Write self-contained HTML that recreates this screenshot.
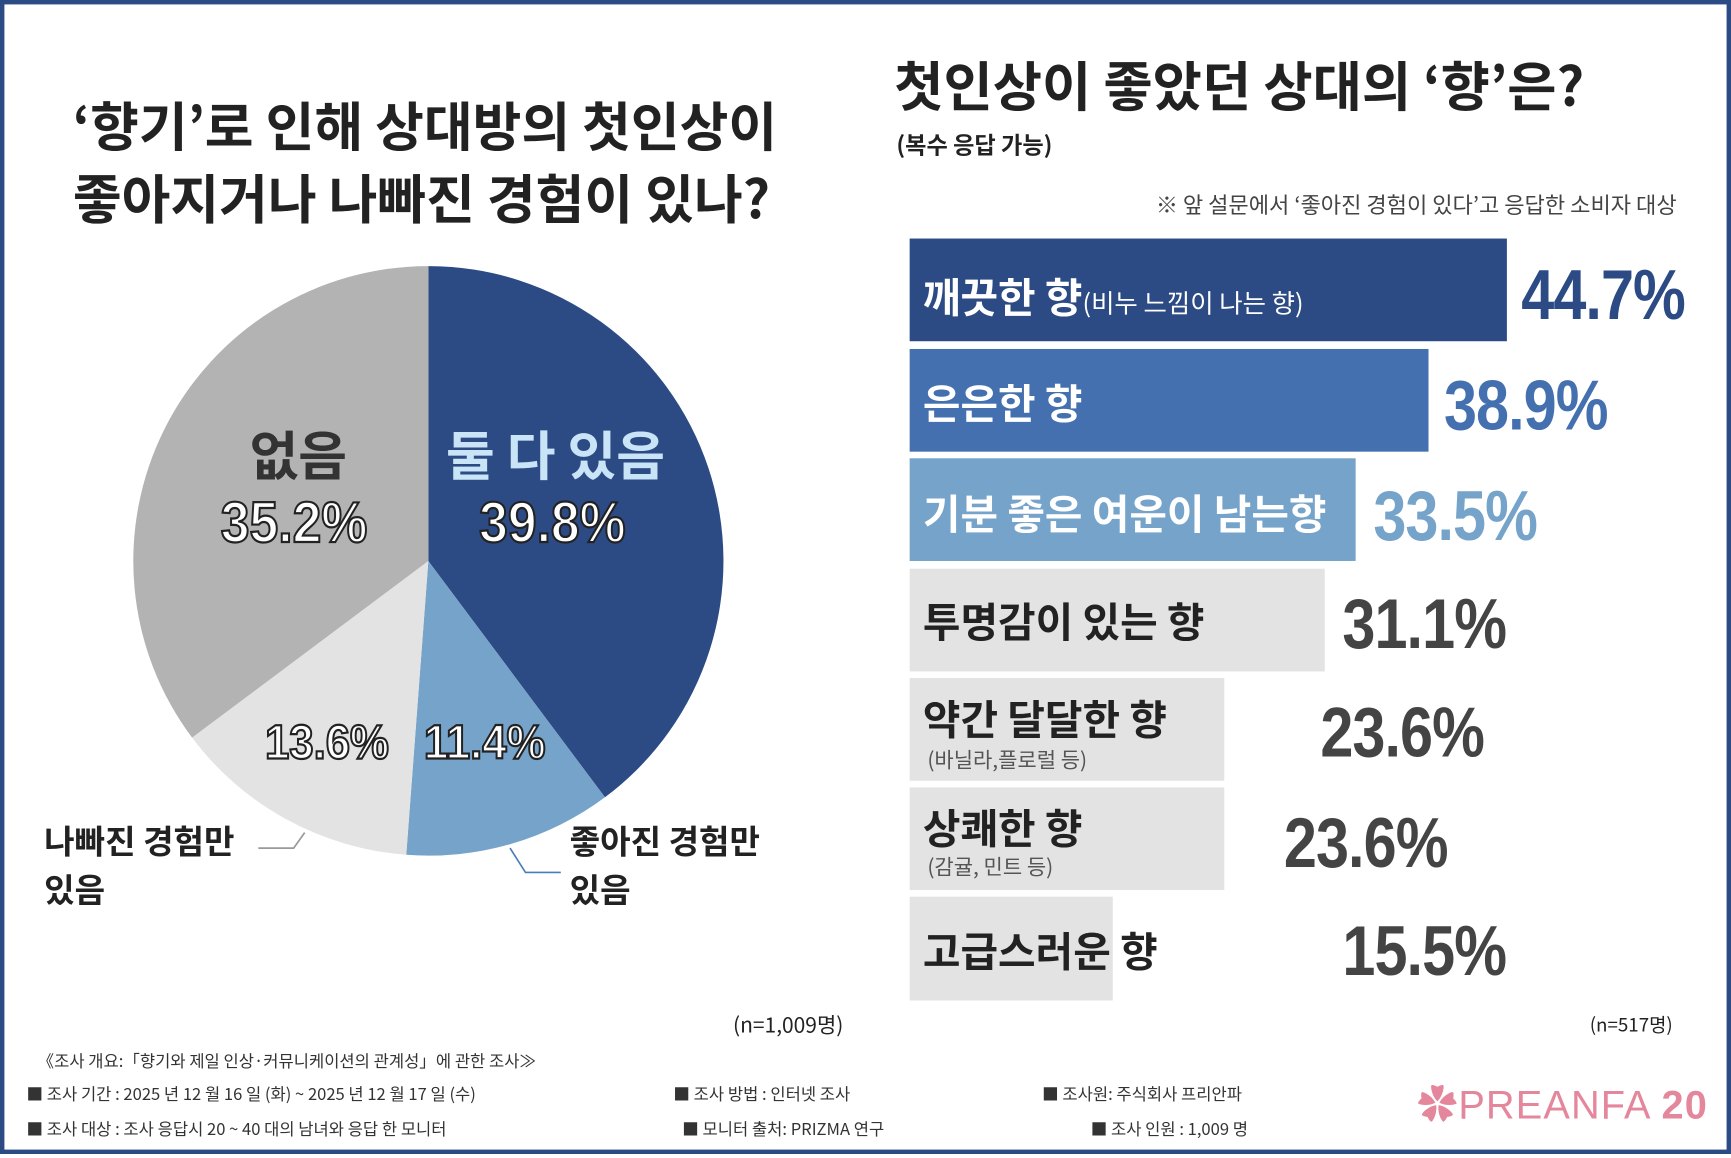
<!DOCTYPE html>
<html><head><meta charset="utf-8"><style>
html,body{margin:0;padding:0;background:#fff;}
body{width:1731px;height:1154px;overflow:hidden;}
#w{width:1568px;height:1045px;transform:scale(1.10395,1.10431);transform-origin:0 0;position:relative;font-family:"Liberation Sans","Noto Sans CJK KR",sans-serif;color:#222;box-sizing:border-box;border:4px solid #2c4a84;}
.a{position:absolute;white-space:nowrap;}
.k{font-family:"Noto Sans CJK KR","NanumGothic",sans-serif;}
.b{font-weight:bold;}
.bar{position:absolute;left:820px;}
.v{position:absolute;font-family:"Liberation Sans Narrow","Liberation Sans",sans-serif;font-weight:bold;font-size:64px;letter-spacing:-1px;transform:scaleX(0.84);transform-origin:0 0;}
.p{font-family:"Liberation Sans",sans-serif;transform:scaleX(0.9);transform-origin:0 0;}
.s{font-size:15px;color:#333;}
</style></head><body><div id="w">
<div class="a k b" style="left:62px;top:74px;font-size:48px;line-height:66px;color:#222">‘향기’로 인해 상대방의 첫인상이<br>좋아지거나 나빠진 경험이 있나?</div>
<div class="a k b" style="left:806px;top:36px;font-size:48.5px;color:#222">첫인상이 좋았던 상대의 ‘향’은?</div>
<div class="a k" style="left:808px;top:112px;font-size:21px;font-weight:bold">(복수 응답 가능)</div>
<div class="a k" style="left:1043px;top:166px;font-size:20px;color:#444">※ 앞 설문에서 ‘좋아진 경험이 있다’고 응답한 소비자 대상</div>
<svg class="a" style="left:0;top:0" width="1568" height="1045">
<path d="M384,504 L384,237 A267,267 0 0 1 544,718 Z" fill="#2c4a84"/>
<path d="M384,504 L544,718 A267,267 0 0 1 364,770 Z" fill="#76a3c9"/>
<path d="M384,504 L364,770 A267,267 0 0 1 170,664 Z" fill="#e3e3e3"/>
<path d="M384,504 L170,664 A267,267 0 0 1 384,237 Z" fill="#b3b3b3"/>
<polyline points="230,764 262,764 272,750" fill="none" stroke="#999" stroke-width="1.5"/>
<polyline points="458,764 472,786 504,786" fill="none" stroke="#4a7db5" stroke-width="1.5"/>
</svg>
<div class="a k b" style="left:222px;top:370px;font-size:48px;color:#333">없음</div>
<div class="a b p" style="left:196px;top:440px;font-size:52px;color:#fff;-webkit-text-stroke:2px #222;">35.2%</div>
<div class="a k b" style="left:400px;top:370px;font-size:48px;color:#c9e3f7">둘 다 있음</div>
<div class="a b p" style="left:430px;top:440px;font-size:52px;color:#fff;-webkit-text-stroke:2px #222;">39.8%</div>
<div class="a b p" style="left:236px;top:644px;font-size:44px;color:#fff;-webkit-text-stroke:2px #222;">13.6%</div>
<div class="a b p" style="left:380px;top:644px;font-size:44px;color:#fff;-webkit-text-stroke:2px #222;">11.4%</div>
<div class="a k b" style="left:36px;top:734px;font-size:30px;line-height:44px">나빠진 경험만<br>있음</div>
<div class="a k b" style="left:512px;top:734px;font-size:30px;line-height:44px">좋아진 경험만<br>있음</div>
<div class="a k" style="left:660px;top:910px;font-size:19px">(n=1,009명)</div>
<div class="a k" style="left:1436px;top:910px;font-size:17px">(n=517명)</div>

<div class="bar" style="top:212px;width:541px;height:93px;background:#2c4a84"></div>
<div class="bar" style="top:312px;width:470px;height:93px;background:#4470b0"></div>
<div class="bar" style="top:411px;width:404px;height:93px;background:#76a3c9"></div>
<div class="bar" style="top:511px;width:376px;height:93px;background:#e3e3e3"></div>
<div class="bar" style="top:610px;width:285px;height:93px;background:#e3e3e3"></div>
<div class="bar" style="top:709px;width:285px;height:93px;background:#e3e3e3"></div>
<div class="bar" style="top:808px;width:184px;height:94px;background:#e3e3e3"></div>

<div class="a k b" style="left:832px;top:236px;font-size:37px;color:#fff">깨끗한 향<span style="font-size:23px;font-weight:normal">(비누 느낌이 나는 향)</span></div>
<div class="a k b" style="left:832px;top:332px;font-size:37px;color:#fff">은은한 향</div>
<div class="a k b" style="left:832px;top:432px;font-size:37px;color:#fff">기분 좋은 여운이 남는향</div>
<div class="a k b" style="left:832px;top:530px;font-size:37px;color:#222">투명감이 있는 향</div>
<div class="a k b" style="left:832px;top:618px;font-size:37px;color:#222">약간 달달한 향</div>
<div class="a k" style="left:836px;top:670px;font-size:19px;color:#555">(바닐라,플로럴 등)</div>
<div class="a k b" style="left:832px;top:717px;font-size:37px;color:#222">상쾌한 향</div>
<div class="a k" style="left:836px;top:767px;font-size:19px;color:#555">(감귤, 민트 등)</div>
<div class="a k b" style="left:832px;top:828px;font-size:37px;color:#222">고급스러운 향</div>

<div class="v" style="left:1374px;top:226px;color:#2c4a84">44.7%</div>
<div class="v" style="left:1304px;top:326px;color:#4470b0">38.9%</div>
<div class="v" style="left:1240px;top:426px;color:#76a3c9">33.5%</div>
<div class="v" style="left:1212px;top:524px;color:#444">31.1%</div>
<div class="v" style="left:1192px;top:622px;color:#444">23.6%</div>
<div class="v" style="left:1159px;top:722px;color:#444">23.6%</div>
<div class="v" style="left:1212px;top:820px;color:#444">15.5%</div>

<div class="a k s" style="left:30px;top:946px">《조사 개요:「향기와 제일 인상·커뮤니케이션의 관계성」에 관한 조사≫</div>
<div class="a k s" style="left:20px;top:976px">■ 조사 기간 : 2025 년 12 월 16 일 (화) ~ 2025 년 12 월 17 일 (수)</div>
<div class="a k s" style="left:20px;top:1008px">■ 조사 대상 : 조사 응답시 20 ~ 40 대의 남녀와 응답 한 모니터</div>
<div class="a k s" style="left:606px;top:976px">■ 조사 방법 : 인터넷 조사</div>
<div class="a k s" style="left:614px;top:1008px">■ 모니터 출처: PRIZMA 연구</div>
<div class="a k s" style="left:940px;top:976px">■ 조사원: 주식회사 프리안파</div>
<div class="a k s" style="left:984px;top:1008px">■ 조사 인원 : 1,009 명</div>
<div class="a" style="left:1280px;top:968px;font-size:36px;color:#e4879c;letter-spacing:1px">✿PREANFA <span style="font-weight:bold">20</span></div>
</div></body></html>
